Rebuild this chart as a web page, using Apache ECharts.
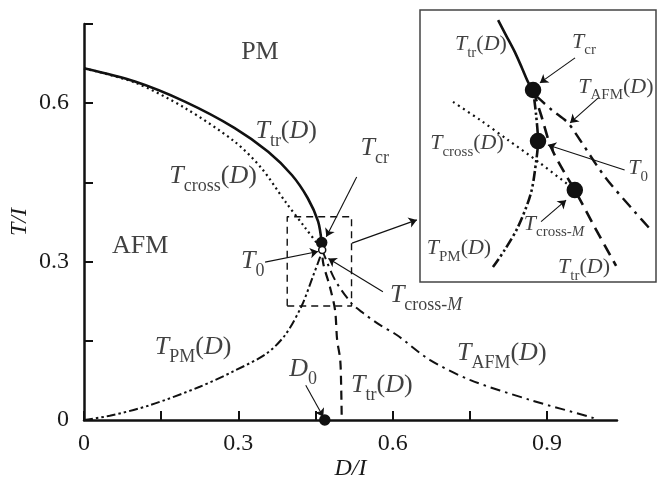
<!DOCTYPE html>
<html>
<head>
<meta charset="utf-8">
<script src="https://cdn.jsdelivr.net/npm/echarts@6/dist/echarts.min.js"></script>
<style>html,body{margin:0;padding:0;background:#fff}#c{width:657px;height:481px}</style>
</head>
<body>
<div id="c"></div>
<script>
// ---------- main plot data (D/I, T/I) ----------
const xTicks = [0, 0.15, 0.3, 0.45, 0.6, 0.75, 0.9];
const xTickLabels = [0, 0.3, 0.6, 0.9];
const yTicks = [0, 0.15, 0.3, 0.45, 0.6, 0.75];
const yTickLabels = [0, 0.3, 0.6];

const TtrSolid = [[0,0.666],[0.099,0.641],[0.196,0.603],[0.293,0.553],[0.358,0.508],[0.404,0.464],[0.435,0.42],[0.455,0.376],[0.462,0.336]];
const TtrDashed = [[0.462,0.336],[0.465,0.297],[0.478,0.252],[0.488,0.208],[0.492,0.152],[0.498,0.114],[0.5,0.057],[0.501,0]];
const Tcross = [[0,0.666],[0.099,0.639],[0.196,0.591],[0.293,0.527],[0.345,0.477],[0.391,0.414],[0.43,0.364],[0.455,0.332],[0.463,0.322]];
const TPM = [[0,0],[0.05,0.008],[0.128,0.028],[0.225,0.063],[0.29,0.092],[0.355,0.126],[0.391,0.161],[0.423,0.216],[0.445,0.272],[0.459,0.309],[0.463,0.322]];
const TAFM = [[0.463,0.322],[0.488,0.265],[0.52,0.221],[0.542,0.203],[0.575,0.18],[0.608,0.161],[0.672,0.114],[0.75,0.076],[0.867,0.038],[0.989,0.004],[0.993,0]];
const zoomBox = [[0.395,0.2158],[0.52,0.2158],[0.52,0.385],[0.395,0.385],[0.395,0.2158]];
const pointTcr = [0.462, 0.336];
const pointT0 = [0.463, 0.322];
const pointD0 = [0.468, 0];

// ---------- inset (schematic, normalised units) ----------
const inTtrSolid = [[0.331,0.963],[0.364,0.908],[0.401,0.847],[0.432,0.787],[0.458,0.735],[0.479,0.706]];
const inTtrDashed = [[0.479,0.706],[0.513,0.614],[0.555,0.496],[0.613,0.401],[0.656,0.338],[0.74,0.202],[0.831,0.059]];
const inTPM = [[0.309,0.055],[0.359,0.118],[0.415,0.202],[0.47,0.327],[0.493,0.449],[0.5,0.518],[0.492,0.614],[0.479,0.706]];
const inTAFM = [[0.492,0.684],[0.559,0.632],[0.627,0.585],[0.678,0.522],[0.784,0.386],[0.911,0.257],[0.979,0.191]];
const inTcross = [[0.14,0.662],[0.254,0.596],[0.373,0.522],[0.508,0.4375],[0.657,0.338]];
const inTcr = [0.479, 0.706];
const inT0 = [0.5, 0.518];
const inTcrossM = [0.656, 0.338];

// ---------- annotations ----------
const mainLabels = [
  ['PM', 0.342, 0.697],
  ['{i|T}{s|tr}{r|(}{i|D}{r|)}', 0.393, 0.538],
  ['{i|T}{s|cross}{r|(}{i|D}{r|)}', 0.251, 0.453],
  ['AFM', 0.109, 0.33],
  ['{i|T}{s|0}', 0.328, 0.292],
  ['{i|T}{s|cr}', 0.565, 0.505],
  ['{i|T}{s|cross-}{si|M}', 0.665, 0.227],
  ['{i|T}{s|PM}{r|(}{i|D}{r|)}', 0.212, 0.129],
  ['{i|T}{s|AFM}{r|(}{i|D}{r|)}', 0.812, 0.117],
  ['{i|T}{s|tr}{r|(}{i|D}{r|)}', 0.579, 0.057],
  ['{i|D}{s|0}', 0.426, 0.087]
];
const mainArrows = [
  [[0.352,0.299],[0.455,0.319]],
  [[0.581,0.243],[0.475,0.306]],
  [[0.431,0.066],[0.465,0.006]],
  [[0.53,0.46],[0.471,0.347]],
  [[0.521,0.335],[0.647,0.379]]
];
const insetLabels = [
  ['{i|T}{s|tr}{r|(}{i|D}{r|)}', 0.258, 0.86],
  ['{i|T}{s|cr}', 0.695, 0.868],
  ['{i|T}{s|AFM}{r|(}{i|D}{r|)}', 0.83, 0.702],
  ['{i|T}{s|cross}{r|(}{i|D}{r|)}', 0.199, 0.496],
  ['{i|T}{s|0}', 0.924, 0.404],
  ['{i|T}{s|cross-}{si|M}', 0.568, 0.199],
  ['{i|T}{s|PM}{r|(}{i|D}{r|)}', 0.165, 0.11],
  ['{i|T}{s|tr}{r|(}{i|D}{r|)}', 0.695, 0.04]
];
const insetArrows = [
  [[0.657,0.824],[0.508,0.732]],
  [[0.754,0.676],[0.636,0.585]],
  [[0.867,0.412],[0.542,0.504]],
  [[0.513,0.222],[0.619,0.301]]
];

const FF = 'Liberation Serif, Times New Roman, serif';
const INK = '#111';
function richSet(big, small, pad) {
  return {
    i: {fontFamily: FF, fontStyle: 'italic', fontSize: big, color: INK, lineHeight: big + 2, padding: [0,0,pad,0]},
    r: {fontFamily: FF, fontSize: big, color: INK, lineHeight: big + 2, padding: [0,0,pad,0]},
    s: {fontFamily: FF, fontSize: small, color: INK, lineHeight: small, verticalAlign: 'bottom'},
    si: {fontFamily: FF, fontSize: small, fontStyle: 'italic', color: INK, lineHeight: small, verticalAlign: 'bottom'}
  };
}
function lineSeries(data, dash, width, xi) {
  return {type: 'line', xAxisIndex: xi, yAxisIndex: xi, data: data, symbol: 'none', smooth: 0.3,
    lineStyle: {color: INK, width: width, type: dash}, silent: true, z: 3};
}
function dotSeries(pts, size, fill, xi) {
  return {type: 'scatter', xAxisIndex: xi, yAxisIndex: xi, data: pts, symbol: 'circle', symbolSize: size,
    itemStyle: {color: fill, borderColor: INK, borderWidth: 1.5, opacity: 1}, z: 5, silent: true};
}
function labelSeries(list, big, small, pad, xi) {
  return {type: 'scatter', xAxisIndex: xi, yAxisIndex: xi, symbolSize: 1, itemStyle: {color: 'rgba(0,0,0,0)'}, z: 6, silent: true,
    data: list.map(l => ({value: [l[1], l[2]], label: {formatter: l[0]}})),
    label: {show: true, position: 'inside', fontFamily: FF, fontSize: big, color: INK, rich: richSet(big, small, pad)}};
}
function arrowSeries(list, xi, size) {
  return {type: 'lines', coordinateSystem: 'cartesian2d', xAxisIndex: xi, yAxisIndex: xi, symbol: ['none', 'arrow'], symbolSize: size,
    lineStyle: {color: INK, width: 1.1, opacity: 1, curveness: 0}, z: 4, silent: true,
    data: list.map(a => ({coords: a}))};
}

const axisFont = {fontFamily: FF, fontSize: 24, color: '#1a1a1a'};
const chart = echarts.init(document.getElementById('c'));
chart.setOption({
  animation: false,
  backgroundColor: '#fff',
  grid: [
    {left: 84, top: 24, width: 533, height: 396, show: false, containLabel: false, outerBoundsMode: 'none'},
    {left: 420, top: 10, width: 236, height: 272, show: true, borderColor: '#444', borderWidth: 1.5, backgroundColor: 'transparent', z: 2, containLabel: false, outerBoundsMode: 'none'}
  ],
  xAxis: [
    {type: 'value', gridIndex: 0, min: 0, max: 1.036,
      name: 'D/I', nameLocation: 'middle', nameGap: 37, nameMoveOverlap: false, nameTextStyle: {fontFamily: FF, fontStyle: 'italic', fontSize: 24, color: '#1a1a1a'},
      axisLine: {show: true, onZero: false, lineStyle: {color: INK, width: 2.5}},
      axisTick: {show: true, inside: true, length: 9, lineStyle: {color: INK, width: 2}, customValues: xTicks},
      axisLabel: Object.assign({margin: 12, customValues: xTickLabels}, axisFont),
      splitLine: {show: false}},
    {type: 'value', gridIndex: 1, min: 0, max: 1, show: false, splitLine: {show: false}}
  ],
  yAxis: [
    {type: 'value', gridIndex: 0, min: 0, max: 0.75,
      name: 'T/I', nameLocation: 'middle', nameGap: 52, nameMoveOverlap: false, nameRotate: 90, nameTextStyle: {fontFamily: FF, fontStyle: 'italic', fontSize: 24, color: '#1a1a1a'},
      axisLine: {show: true, onZero: false, lineStyle: {color: INK, width: 2.5}},
      axisTick: {show: true, inside: true, length: 9, lineStyle: {color: INK, width: 2}, customValues: yTicks},
      axisLabel: Object.assign({margin: 15, customValues: yTickLabels}, axisFont),
      splitLine: {show: false}},
    {type: 'value', gridIndex: 1, min: 0, max: 1, show: false, splitLine: {show: false}}
  ],
  series: [
    lineSeries(TtrSolid, 'solid', 2.6, 0),
    lineSeries(TtrDashed, [9, 6], 2.2, 0),
    lineSeries(Tcross, [2, 3.5], 2.2, 0),
    lineSeries(TPM, [9, 3, 2.5, 3, 2.5, 3], 2, 0),
    lineSeries(TAFM, [10, 5, 2.5, 5], 2, 0),
    Object.assign(lineSeries(zoomBox, [7, 5], 1.4, 0), {smooth: false}),
    dotSeries([pointTcr, pointD0], 10, INK, 0),
    dotSeries([pointT0], 7, '#fff', 0),
    arrowSeries(mainArrows, 0, 8),
    labelSeries(mainLabels, 26, 18, 10, 0),
    lineSeries(inTtrSolid, 'solid', 2.6, 1),
    lineSeries(inTtrDashed, [12, 7], 2.6, 1),
    lineSeries(inTPM, [10, 3, 2.5, 3, 2.5, 3], 2.6, 1),
    lineSeries(inTAFM, [12, 6, 3, 6], 2.4, 1),
    lineSeries(inTcross, [2, 4], 2.2, 1),
    dotSeries([inTcr, inT0, inTcrossM], 15, INK, 1),
    arrowSeries(insetArrows, 1, 8),
    labelSeries(insetLabels, 22, 15, 8, 1)
  ]
});
</script>
</body>
</html>
